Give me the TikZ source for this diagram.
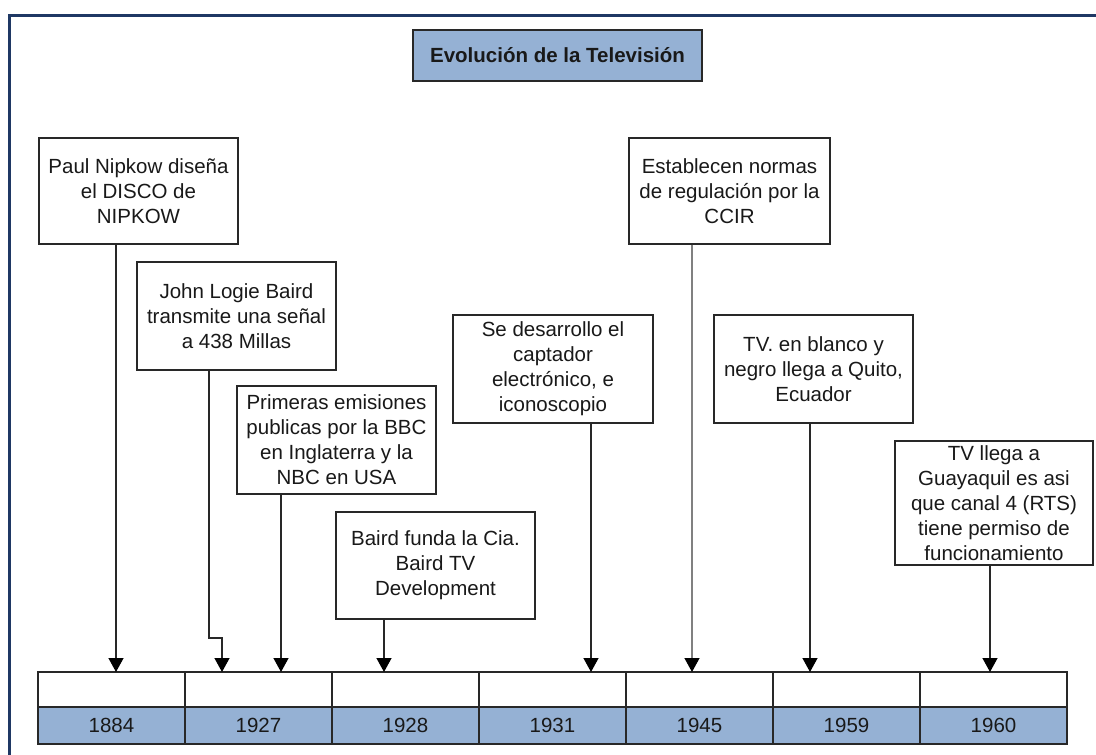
\documentclass[tikz,border=0pt]{standalone}
\usepackage{fontspec}
\setmainfont{Liberation Sans}
\usetikzlibrary{arrows.meta}
\definecolor{framenavy}{RGB}{31,56,100}
\definecolor{yearblue}{RGB}{149,177,212}
\definecolor{boxline}{RGB}{40,40,40}

\begin{document}
\begin{tikzpicture}[x=1pt,y=-1pt,
  every node/.style={font=\fontsize{20.5}{25}\selectfont, text=black!90},
  event/.style={draw=boxline, line width=1.3pt, fill=white, align=center,
    inner sep=0pt, minimum width=199pt, minimum height=108pt},
  titlebox/.style={draw=boxline, line width=1.3pt, fill=yearblue,
    inner sep=0pt, minimum width=289pt, minimum height=51pt,
    font=\fontsize{20.5}{25}\selectfont\bfseries},
  cell/.style={draw=boxline, line width=1.3pt, fill=white, inner sep=0pt,
    minimum width=147pt, minimum height=35pt},
  yearcell/.style={draw=boxline, line width=1.3pt, fill=yearblue, inner sep=0pt,
    minimum width=147pt, minimum height=37pt},
  conn/.style={draw=boxline, line width=1.3pt,
    -{Triangle[length=14pt,width=15pt,color=black]}},
]
\useasboundingbox (0,0) rectangle (1096,755);

% frame
\draw[framenavy, line width=3pt] (9.5,755) -- (9.5,15) -- (1096,15);

% title
\node[titlebox] (title) at (557.5,55.5) {Evolución de la Televisión};

% timeline
\foreach \yr [count=\i] in {1884,1927,1928,1931,1945,1959,1960} {
  \node[cell] (w\i) at ({38+147*(\i-0.5)},689.5) {};
  \node[yearcell] (y\i) at ({38+147*(\i-0.5)},725.5) {\yr};
}

% events
\node[event, minimum height=106pt] (b1) at (138.5,191)
  {Paul Nipkow diseña\\el DISCO de\\NIPKOW};
\node[event] (b2) at (236.5,316)
  {John Logie Baird\\transmite una señal\\a 438 Millas};
\node[event] (b3) at (336.5,440)
  {Primeras emisiones\\publicas por la BBC\\en Inglaterra y la\\NBC en USA};
\node[event, minimum height=107pt] (b4) at (435.5,565.5)
  {Baird funda la Cia.\\Baird TV\\Development};
\node[event, minimum width=200pt] (b5) at (553,369)
  {Se desarrollo el\\captador\\electrónico, e\\iconoscopio};
\node[event, minimum width=201pt, minimum height=106pt] (b6) at (729.5,191)
  {Establecen normas\\de regulación por la\\CCIR};
\node[event] (b7) at (813.5,369)
  {TV. en blanco y\\negro llega a Quito,\\Ecuador};
\node[event, minimum width=198pt, minimum height=124pt] (b8) at (994,503)
  {TV llega a\\Guayaquil es asi\\que canal 4 (RTS)\\tiene permiso de\\funcionamiento};

% arrow ends on the timeline
\coordinate (t1) at (116,672);
\coordinate (t2) at (222,672);
\coordinate (t3) at (281,672);
\coordinate (t4) at (384,672);
\coordinate (t5) at (591,672);
\coordinate (t6) at (692,672);
\coordinate (t7) at (810,672);
\coordinate (t8) at (990,672);
\coordinate (e2) at (209,638);

% connectors
\draw[conn] (b1.south -| t1) -- (t1);
\draw[conn] (b2.south -| e2) -- (e2) -| (t2);
\draw[conn] (b3.south -| t3) -- (t3);
\draw[conn] (b4.south -| t4) -- (t4);
\draw[conn] (b5.south -| t5) -- (t5);
\draw[conn, draw=black!50] (b6.south -| t6) -- (t6);
\draw[conn] (b7.south -| t7) -- (t7);
\draw[conn] (b8.south -| t8) -- (t8);
\end{tikzpicture}
\end{document}
